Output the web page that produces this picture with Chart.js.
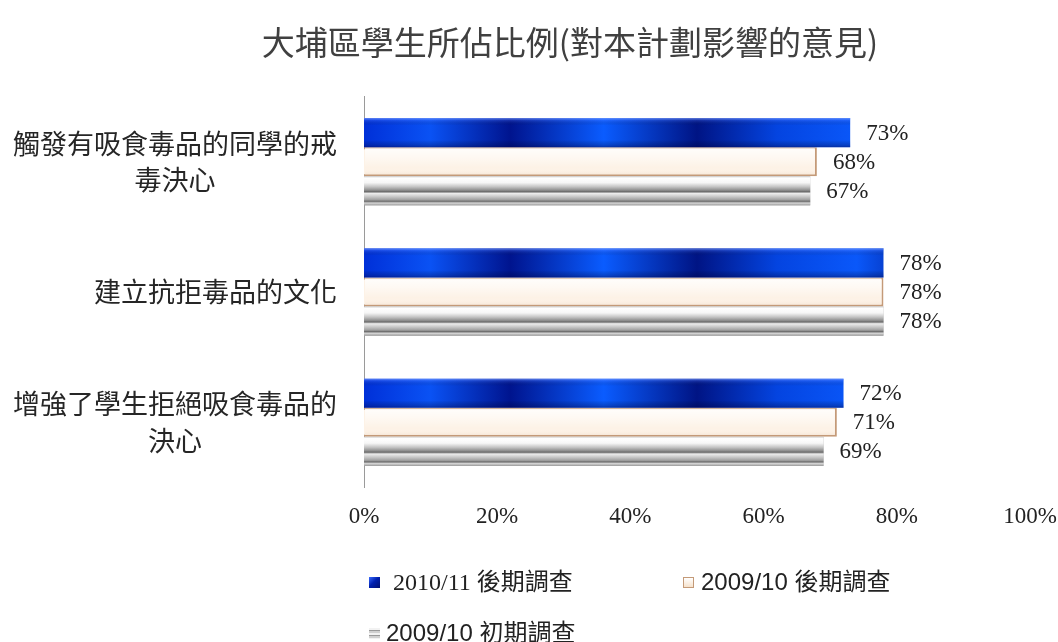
<!DOCTYPE html>
<html>
<head>
<meta charset="utf-8">
<script src="https://cdn.jsdelivr.net/npm/chart.js@4"></script>
<style>
  html, body { margin: 0; padding: 0; background: #fff; }
  #wrap { position: relative; width: 1058px; height: 642px; }
  .lg { position: absolute; display: flex; align-items: center; font-size: 24px; color: #222; white-space: nowrap; line-height: 1; }
  .sw { width: 11px; height: 11px; display: inline-block; box-sizing: border-box; }
</style>
</head>
<body>
<div id="wrap">
  <canvas id="grafico" width="1058" height="642"></canvas>
</div>
<script>
// dados
const categorias = [
  ['觸發有吸食毒品的同學的戒', '毒決心'],
  '建立抗拒毒品的文化',
  ['增強了學生拒絕吸食毒品的', '決心']
];
const series = ['2010/11 後期調查', '2009/10 後期調查', '2009/10 初期調查'];
const pos2010 = [73, 78, 72];
const pos2009 = [68, 78, 71];
const pre2009 = [67, 78, 69];
const ticksX = [0, 20, 40, 60, 80, 100];

const CJK = '"Noto Sans CJK TC", "Noto Sans CJK SC", sans-serif';
const SERIF = '"Liberation Serif", "Noto Sans CJK TC", serif';

// gradiente "manchado" do azul, ao longo da área do gráfico
function azul(c) {
  const a = c.chart.chartArea;
  if (!a) return '#0030d0';
  const g = c.chart.ctx.createLinearGradient(a.left, 0, a.right, 0);
  g.addColorStop(0.00, '#0030d8');
  g.addColorStop(0.10, '#0a52f4');
  g.addColorStop(0.22, '#00148e');
  g.addColorStop(0.36, '#0a5cff');
  g.addColorStop(0.50, '#001484');
  g.addColorStop(0.62, '#0444e0');
  g.addColorStop(0.74, '#0a58fa');
  g.addColorStop(0.86, '#001686');
  g.addColorStop(1.00, '#0040e0');
  return g;
}

// brilho / listras desenhadas por cima das barras
const brilho = {
  id: 'brilho',
  afterDatasetsDraw(chart) {
    const ctx = chart.ctx;
    chart.data.datasets.forEach((ds, di) => {
      const meta = chart.getDatasetMeta(di);
      meta.data.forEach(el => {
        const p = el.getProps(['x', 'y', 'base', 'height'], true);
        const l = Math.min(p.base, p.x), r = Math.max(p.base, p.x);
        const t = p.y - p.height / 2, b = p.y + p.height / 2;
        const g = ctx.createLinearGradient(0, t, 0, b);
        ctx.save();
        if (di === 0) {
          g.addColorStop(0.00, 'rgba(140,170,255,0.75)');
          g.addColorStop(0.08, 'rgba(90,130,255,0.25)');
          g.addColorStop(0.25, 'rgba(0,0,0,0)');
          g.addColorStop(0.75, 'rgba(0,0,0,0)');
          g.addColorStop(0.93, 'rgba(0,0,50,0.25)');
          g.addColorStop(1.00, 'rgba(0,0,60,0.45)');
          ctx.fillStyle = g;
          ctx.fillRect(l, t, r - l, b - t);
        } else if (di === 1) {
          g.addColorStop(0.00, 'rgba(255,255,255,0.9)');
          g.addColorStop(0.35, 'rgba(255,255,255,0.5)');
          g.addColorStop(0.70, 'rgba(255,255,255,0)');
          g.addColorStop(1.00, 'rgba(230,200,170,0.35)');
          ctx.fillStyle = g;
          ctx.fillRect(l + 1, t + 1, r - l - 3, b - t - 3);
        } else {
          g.addColorStop(0.00, '#d0d0d0');
          g.addColorStop(0.06, '#ffffff');
          g.addColorStop(0.22, '#f6f6f6');
          g.addColorStop(0.36, '#c4c4c4');
          g.addColorStop(0.48, '#8e8e8e');
          g.addColorStop(0.53, '#6a6a6a');
          g.addColorStop(0.59, '#ececec');
          g.addColorStop(0.70, '#c8c8c8');
          g.addColorStop(0.81, '#a0a0a0');
          g.addColorStop(0.86, '#6e6e6e');
          g.addColorStop(0.92, '#d6d6d6');
          g.addColorStop(1.00, '#9a9a9a');
          ctx.fillStyle = g;
          ctx.fillRect(l, t, r - l, b - t);
        }
        ctx.restore();
      });
    });
  }
};

// rótulos de valor à direita das barras
const rotulos = {
  id: 'rotulos',
  afterDatasetsDraw(chart) {
    const ctx = chart.ctx;
    ctx.save();
    ctx.font = '23px ' + SERIF;
    ctx.fillStyle = '#222';
    ctx.textAlign = 'left';
    ctx.textBaseline = 'middle';
    chart.data.datasets.forEach((ds, di) => {
      chart.getDatasetMeta(di).data.forEach((el, i) => {
        ctx.fillText(ds.data[i] + '%', el.x + 16, el.y + 1);
      });
    });
    ctx.restore();
  }
};

// título um pouco deslocado para a direita; rótulo de uma linha alinhado à direita
const ajustes = {
  id: 'ajustes',
  afterLayout(chart) {
    if (chart.titleBlock) chart.titleBlock.left += 69;
  },
  beforeDraw(chart) {
    const ys = chart.scales.y;
    ys.getLabelItems().forEach(it => {
      if (!Array.isArray(it.label)) {
        it.options.textAlign = 'right';
        it.options.translation[0] = ys.right - ys.options.ticks.padding;
      }
    });
  }
};

const ctx = document.getElementById('grafico').getContext('2d');
const grafico = new Chart(ctx, {
  type: 'bar',
  data: {
    labels: categorias,
    datasets: [
      { label: series[0], data: pos2010, backgroundColor: azul, borderWidth: 0 },
      { label: series[1], data: pos2009, backgroundColor: '#fdf2e6', borderColor: '#c49a78', borderWidth: 2 },
      { label: series[2], data: pre2009, backgroundColor: '#b8b8b8', borderWidth: 0 }
    ]
  },
  options: {
    indexAxis: 'y',
    responsive: false,
    animation: false,
    categoryPercentage: 0.67,
    barPercentage: 1.0,
    layout: { padding: { left: 13, right: 0, top: 0, bottom: 95 } },
    plugins: {
      legend: { display: false },
      tooltip: { enabled: false },
      title: {
        display: true,
        text: '大埔區學生所佔比例(對本計劃影響的意見)',
        color: '#404040',
        font: { family: CJK, size: 33, weight: 'normal', lineHeight: 1.2 },
        padding: { top: 23, bottom: 34 }
      }
    },
    scales: {
      x: {
        min: 0,
        max: 100,
        afterBuildTicks: axis => { axis.ticks = ticksX.map(v => ({ value: v })); },
        afterFit: axis => { axis.paddingRight = 28; axis.paddingLeft = 12; },
        grid: { display: false, drawTicks: false },
        border: { display: false },
        ticks: {
          padding: 16,
          color: '#222',
          font: { family: SERIF, size: 23 },
          callback: v => v + '%'
        }
      },
      y: {
        afterFit: axis => { axis.width = 351; axis.paddingTop = 0; axis.paddingBottom = 0; },
        grid: { display: false, drawTicks: false },
        border: { display: true, color: '#9a9a9a', width: 1 },
        ticks: {
          padding: 27,
          crossAlign: 'center',
          color: '#262626',
          font: { family: CJK, size: 27, lineHeight: 1.37 }
        }
      }
    }
  },
  plugins: [brilho, rotulos, ajustes]
});

// legenda em HTML (duas linhas como no original)
const wrap = document.getElementById('wrap');
const legenda = [
  { x: 369, y: 582, gap: 13, fonte: SERIF, sw: 'background:linear-gradient(135deg,#3a6cff 0%,#0020b0 45%,#001070 100%);' },
  { x: 683, y: 582, gap: 7, fonte: '"Liberation Sans", ' + CJK, sw: 'background:linear-gradient(180deg,#ffffff,#f6e2cc);border:1px solid #c49a78;' },
  { x: 369, y: 633, gap: 6, fonte: '"Liberation Sans", ' + CJK, sw: 'background:repeating-linear-gradient(180deg,#f2f2f2 0 2px,#9a9a9a 2px 3px,#d0d0d0 3px 5px);' }
];
legenda.forEach((it, i) => {
  const d = document.createElement('div');
  d.className = 'lg';
  d.style.left = it.x + 'px';
  d.style.top = (it.y - 12) + 'px';
  d.style.height = '24px';
  d.style.fontFamily = it.fonte;
  const s = document.createElement('span');
  s.className = 'sw';
  s.style.cssText = it.sw;
  s.style.marginRight = it.gap + 'px';
  d.appendChild(s);
  d.appendChild(document.createTextNode(series[i]));
  wrap.appendChild(d);
});
</script>
</body>
</html>
